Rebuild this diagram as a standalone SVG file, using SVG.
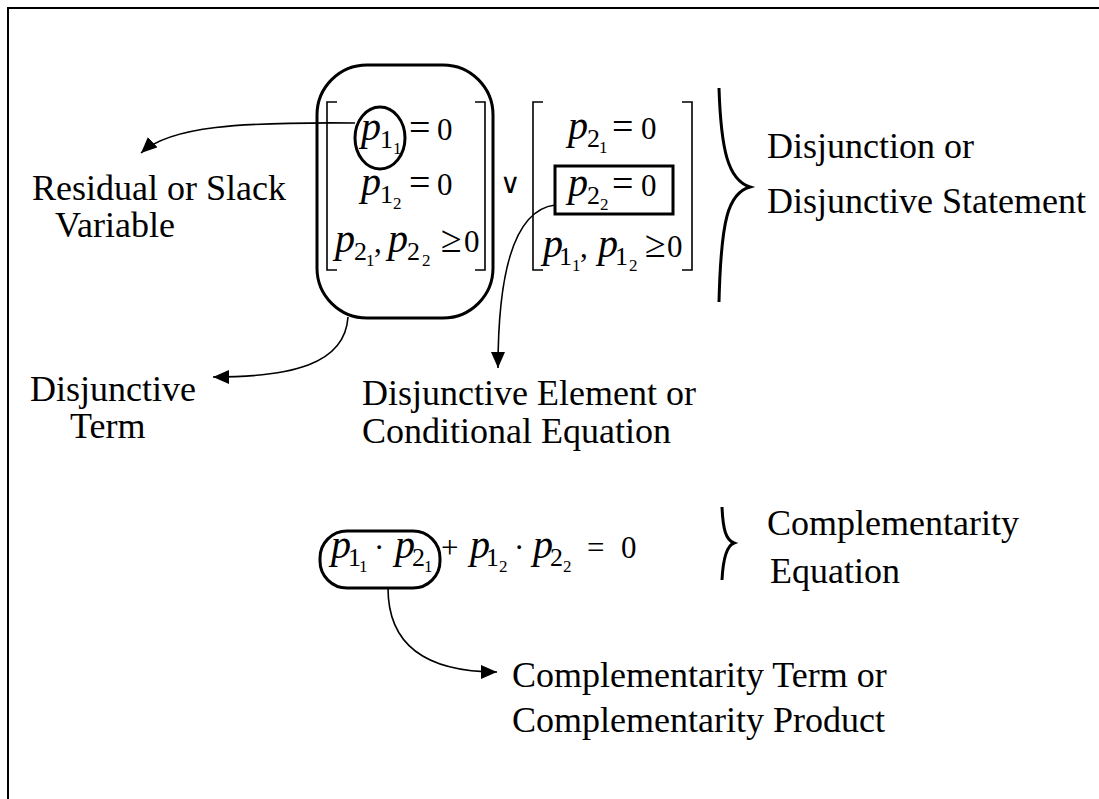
<svg xmlns="http://www.w3.org/2000/svg" width="1099" height="799" viewBox="0 0 1099 799">
<style>
.lbl{font-family:"Liberation Serif","Times New Roman",serif;font-size:36px;fill:#000}
.p{font-family:"Liberation Serif","Times New Roman",serif;font-style:italic;font-size:40px;fill:#000}
.n{font-family:"Liberation Serif","Times New Roman",serif;font-size:31px;fill:#000}
.eq{font-family:"Liberation Serif","Times New Roman",serif;font-size:38px;fill:#000}
.s{font-family:"Liberation Serif","Times New Roman",serif;font-size:26px;fill:#000}
.ss{font-family:"Liberation Serif","Times New Roman",serif;font-size:17px;fill:#000}
.sym{font-family:"DejaVu Serif","Liberation Serif",serif;font-size:28px;fill:#000}
.thick{fill:none;stroke:#000;stroke-width:3}
.brk{fill:none;stroke:#000;stroke-width:1.6}
.conn{fill:none;stroke:#000;stroke-width:1.6}
</style>
<defs>
<marker id="ah" markerUnits="userSpaceOnUse" markerWidth="18" markerHeight="16" refX="16" refY="7" orient="auto">
<path d="M0,0 L16,7 L0,14 Z" fill="#000"/>
</marker>
</defs>
<rect width="1099" height="799" fill="#fff"/>
<path d="M8,799 V8 H1099" fill="none" stroke="#000" stroke-width="2"/>

<g id="disjunctive-term">
<rect class="thick" x="317" y="65" width="176" height="253" rx="50"/>
<path class="brk" d="M337,102 H327 V270 H337 M475,102 H485 V270 H475"/>
<ellipse class="thick" cx="380" cy="138" rx="25" ry="31"/>
<text class="p" x="361" y="140">p</text><text class="s" x="380" y="148">1</text><text class="ss" x="393" y="154">1</text><text class="eq" x="409" y="140">=</text><text class="n" x="437" y="140">0</text>
<text class="p" x="361" y="195">p</text><text class="s" x="380" y="203">1</text><text class="ss" x="393" y="209">2</text><text class="eq" x="409" y="195">=</text><text class="n" x="437" y="195">0</text>
<text class="p" x="335" y="252">p</text><text class="s" x="354" y="260">2</text><text class="ss" x="366" y="266">1</text><text class="n" x="374" y="252">,</text><text class="p" x="388" y="252">p</text><text class="s" x="407" y="260">2</text><text class="ss" x="422" y="266">2</text><text class="eq" x="441" y="252">≥</text><text class="n" x="464" y="252">0</text>
</g>

<g id="or-symbol">
<text class="sym" x="500" y="193">∨</text>
</g>

<g id="disjunctive-term-2">
<path class="brk" d="M543,102 H533 V270 H543 M682,102 H692 V270 H682"/>
<rect class="thick" x="555" y="166" width="118" height="48"/>
<text class="p" x="568" y="139">p</text><text class="s" x="587" y="147">2</text><text class="ss" x="599" y="153">1</text><text class="eq" x="612" y="139">=</text><text class="n" x="641" y="139">0</text>
<text class="p" x="568" y="196">p</text><text class="s" x="587" y="204">2</text><text class="ss" x="600" y="210">2</text><text class="eq" x="612" y="196">=</text><text class="n" x="641" y="196">0</text>
<text class="p" x="543" y="257">p</text><text class="s" x="559" y="265">1</text><text class="ss" x="572" y="271">1</text><text class="n" x="580" y="257">,</text><text class="p" x="598" y="257">p</text><text class="s" x="615" y="265">1</text><text class="ss" x="629" y="271">2</text><text class="eq" x="645" y="257">≥</text><text class="n" x="667" y="257">0</text>
</g>

<g id="disjunction-brace">
<path class="thick" d="M719,88 C721,150 728,180 750,187 C728,193 721,220 719,302"/>
<text class="lbl" x="767" y="158">Disjunction or</text>
<text class="lbl" x="767" y="213">Disjunctive Statement</text>
</g>

<g id="residual-label">
<text class="lbl" x="32" y="200">Residual or Slack</text>
<text class="lbl" x="55" y="237">Variable</text>
</g>

<g id="disjunctive-term-label">
<text class="lbl" x="30" y="401">Disjunctive</text>
<text class="lbl" x="70" y="438">Term</text>
</g>

<g id="disjunctive-element-label">
<text class="lbl" x="362" y="405">Disjunctive Element or</text>
<text class="lbl" x="362" y="443">Conditional Equation</text>
</g>

<g id="complementarity-equation">
<rect class="thick" x="320" y="531" width="120" height="57" rx="27"/>
<text class="p" x="331" y="558">p</text><text class="s" x="348" y="566">1</text><text class="ss" x="359" y="572">1</text><text class="n" x="374" y="558">·</text><text class="p" x="395" y="558">p</text><text class="s" x="412" y="566">2</text><text class="ss" x="424" y="572">1</text>
<text class="n" x="441" y="558">+</text>
<text class="p" x="470" y="558">p</text><text class="s" x="486" y="566">1</text><text class="ss" x="499" y="572">2</text><text class="n" x="514" y="558">·</text><text class="p" x="533" y="558">p</text><text class="s" x="550" y="566">2</text><text class="ss" x="563" y="572">2</text>
<text class="n" x="587" y="558">=</text><text class="n" x="621" y="558">0</text>
</g>

<g id="complementarity-brace">
<path class="thick" d="M722,507 C723,530 726,540 734,543 C726,546 723,560 722,580"/>
<text class="lbl" x="767" y="535">Complementarity</text>
<text class="lbl" x="770" y="583">Equation</text>
</g>

<g id="complementarity-term-label">
<text class="lbl" x="512" y="687">Complementarity Term or</text>
<text class="lbl" x="512" y="732">Complementarity Product</text>
</g>

<g id="connectors">
<path class="conn" marker-end="url(#ah)" d="M355,123 C240,122 170,126 141,153"/>
<path class="conn" marker-end="url(#ah)" d="M348,317 C345,365 290,377 213,377"/>
<path class="conn" marker-end="url(#ah)" d="M555,205 C515,210 498,270 498,368"/>
<path class="conn" marker-end="url(#ah)" d="M388,588 C388,645 425,672 497,672"/>
</g>
</svg>
